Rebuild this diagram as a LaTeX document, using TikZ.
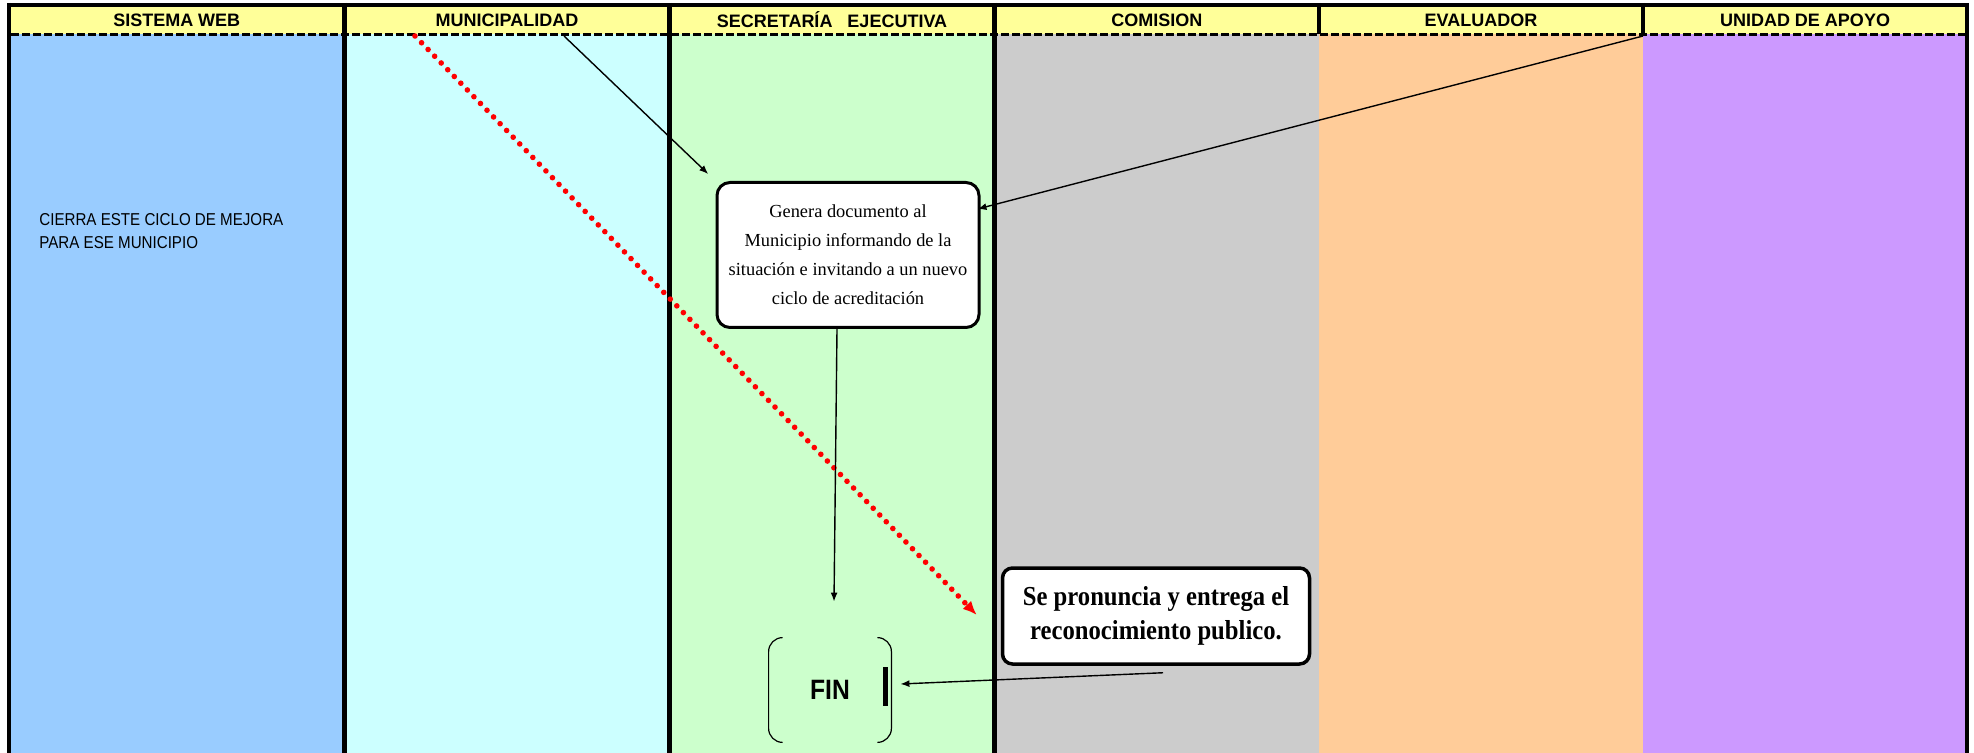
\documentclass[tikz,border=0pt]{standalone}
\usepackage{fontspec}
\setmainfont{Liberation Serif}
\newfontfamily\arialfont{Liberation Sans}
\newfontfamily\narrowfont[FakeStretch=0.88]{Liberation Sans}
\newfontfamily\tallserif[FakeStretch=0.9]{Liberation Serif}
\usetikzlibrary{arrows.meta}
\definecolor{hdryellow}{HTML}{FFFF99}
\definecolor{webblue}{HTML}{99CCFF}
\definecolor{municyan}{HTML}{CCFFFF}
\definecolor{secgreen}{HTML}{CCFFCC}
\definecolor{comgray}{HTML}{CCCCCC}
\definecolor{evalorange}{HTML}{FFCC99}
\definecolor{apoyopurple}{HTML}{CC99FF}
\tikzset{
  lanehead/.style={inner sep=0pt,font=\arialfont\bfseries\fontsize{9}{11}\selectfont},
  roundbox/.style={draw,fill=white,align=center},
  flowarrow/.style={-{Latex[length=4.5pt,width=3.5pt]},line width=0.7pt},
  reddots/.style={red,-{Latex[length=7pt,width=6pt]},line width=2.8pt,line cap=round,dash pattern=on 0pt off 4.7pt}
}
\begin{document}
\begin{tikzpicture}[x=0.5pt,y=-0.5pt]
\useasboundingbox (0,0) rectangle (1974,753);
\foreach \a/\b/\col in {9/344.5/webblue,344.5/669.5/municyan,669.5/994.5/secgreen,994.5/1319/comgray,1319/1643/evalorange,1643/1967/apoyopurple}
  \fill[\col] (\a,34) rectangle (\b,753);
\fill[hdryellow] (9,5) rectangle (1967,34);
\foreach \a/\b/\nm/\lbl in {9/344.5/web/SISTEMA WEB,344.5/669.5/muni/MUNICIPALIDAD,669.5/994.5/sec/SECRETARÍA~~~EJECUTIVA,994.5/1319/com/COMISION,1319/1643/eval/EVALUADOR,1643/1967/apoyo/UNIDAD DE APOYO}
  \node[lanehead] (h\nm) at ({(\a+\b)/2},20) {\lbl};
\draw[line width=2pt] (7,5) -- (1969,5);
\foreach \x in {9,344.5,669.5,994.5,1967} \draw[line width=2.2pt] (\x,3) -- (\x,753);
\foreach \x in {1319,1643} \draw[line width=2.2pt] (\x,3) -- (\x,34);
\draw[line width=1.5pt,dash pattern=on 4pt off 1.5pt] (11,34.5) -- (1965,34.5);
\coordinate (frommuni) at (564,36);
\coordinate (fromapoyo) at (1643,36);
\coordinate (redstart) at (415,36);
\node[font=\narrowfont\fontsize{8.6}{11.5}\selectfont,align=left,anchor=north west,inner sep=0pt] (cierra) at (39,213) {CIERRA ESTE CICLO DE MEJORA\\PARA ESE MUNICIPIO};
\node[roundbox,rounded corners=6.5pt,line width=1.5pt,minimum width=131pt,minimum height=72.5pt,font=\fontsize{9.2}{14.5}\selectfont] (genera) at (848,255) {Genera documento al\\Municipio informando de la\\situación e invitando a un nuevo\\ciclo de acreditación};
\node[roundbox,rounded corners=5pt,line width=1.75pt,minimum width=153.5pt,minimum height=48pt,font=\tallserif\bfseries\fontsize{13.7}{17}\selectfont] (pronuncia) at (1156,616) {Se pronuncia y entrega el\\reconocimiento publico.};
\node[font=\narrowfont\bfseries\fontsize{14}{16}\selectfont,minimum width=61pt,minimum height=52pt,inner sep=0pt] (fin) at (830,690) {FIN};
\draw[line width=0.6pt,rounded corners=7pt] ([xshift=7pt]fin.north west) -- (fin.north west) -- (fin.south west) -- ([xshift=7pt]fin.south west);
\draw[line width=0.6pt,rounded corners=7pt] ([xshift=-7pt]fin.north east) -- (fin.north east) -- (fin.south east) -- ([xshift=-7pt]fin.south east);
\draw[line width=2.5pt] (885.5,667) -- (885.5,706);
\draw[reddots] (redstart) -- ([shift={(-24,-1)}]pronuncia.west);
\draw[flowarrow,shorten >=5pt] (frommuni) -- (genera.north west);
\draw[flowarrow] (fromapoyo) -- ([shift={(-3,-46)}]genera.east);
\draw[flowarrow] ([xshift=-5.5pt]genera.south) -- ([shift={(4,-36)}]fin.north);
\draw[flowarrow] ([shift={(7,7)}]pronuncia.south) -- ([shift={(9,-6)}]fin.east);
\end{tikzpicture}
\end{document}
